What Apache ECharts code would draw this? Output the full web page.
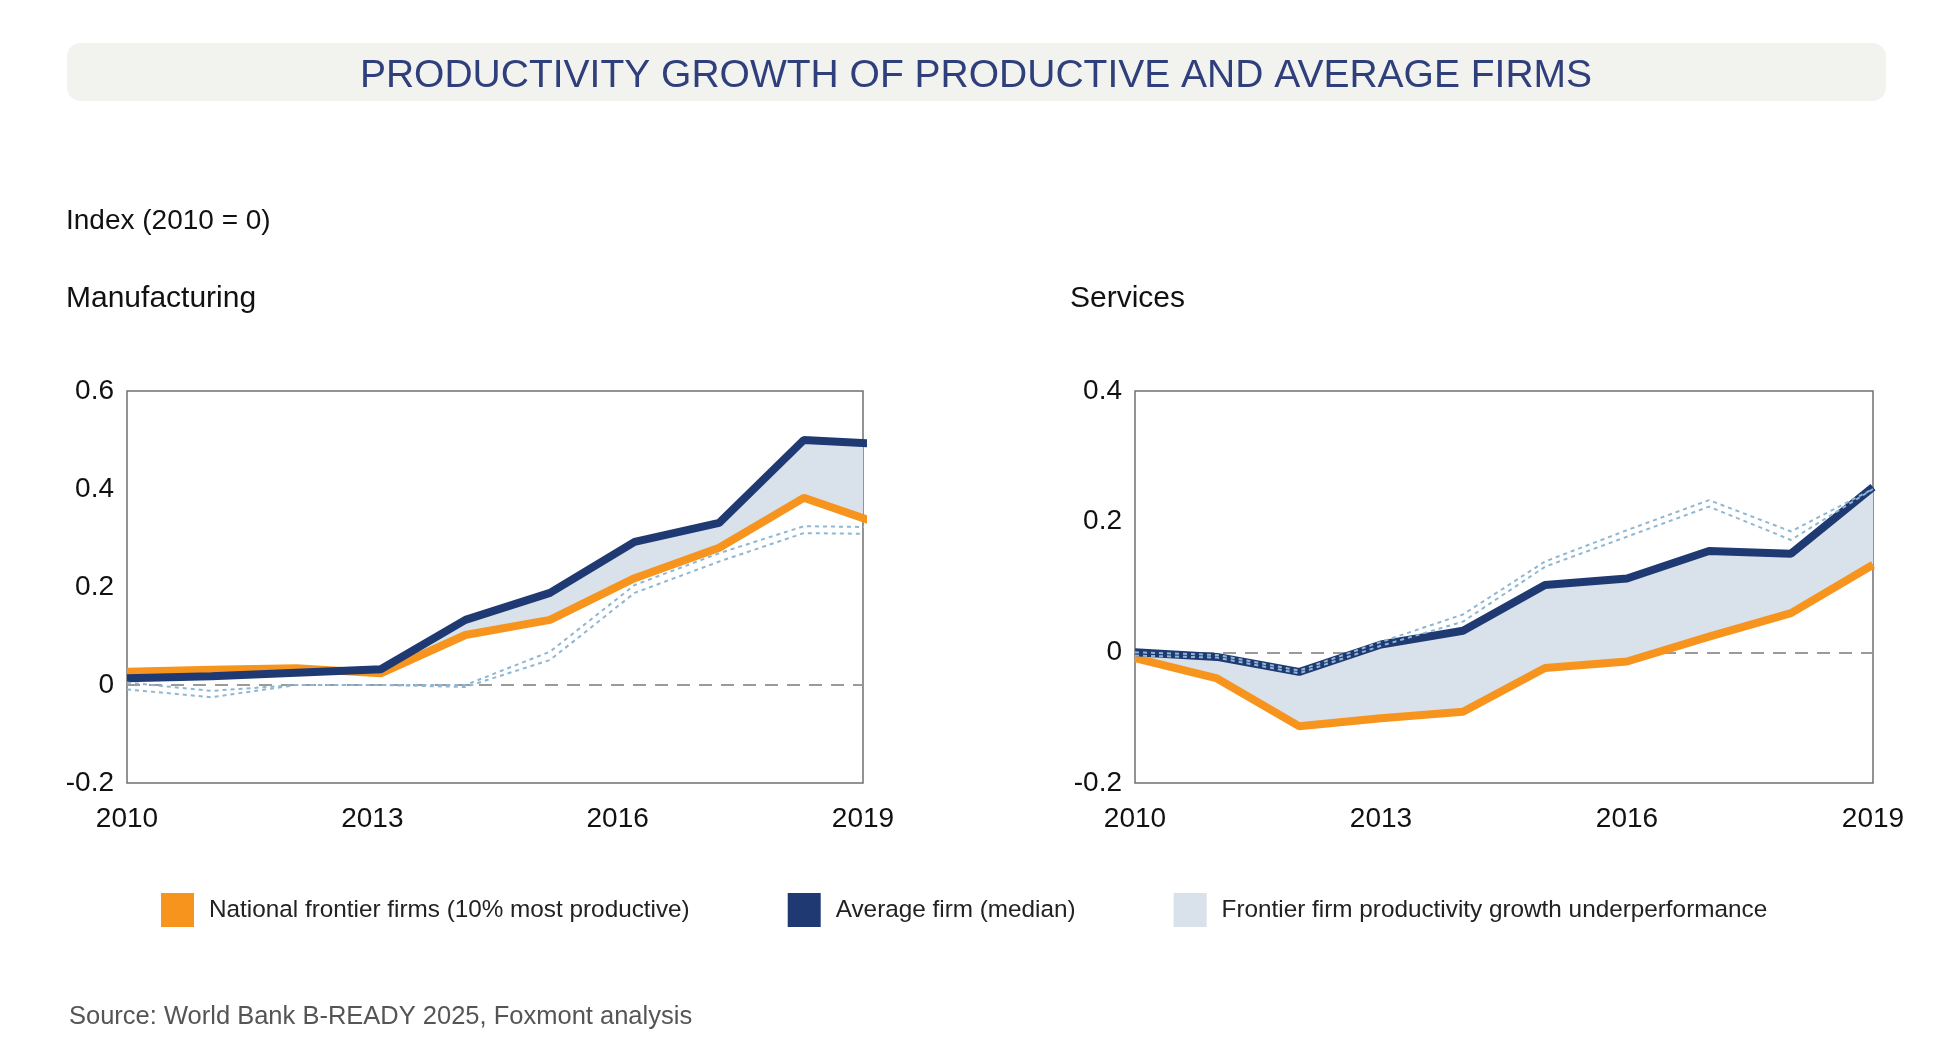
<!DOCTYPE html>
<html lang="en">
<head>
<meta charset="UTF-8">
<title>Productivity growth of productive and average firms</title>
<script src="https://cdn.jsdelivr.net/npm/echarts@6/dist/echarts.min.js"></script>
<style>
    html, body { margin: 0; padding: 0; background: #ffffff; }
    #chart { width: 1939px; height: 1055px; }
</style>
</head>
<body>
<div id="chart"></div>
<script>
// 年份
const years = [2010, 2011, 2012, 2013, 2014, 2015, 2016, 2017, 2018, 2019];
// 刻度标签
const xTicks = [2010, 2013, 2016, 2019];
const mfgTicks = [-0.2, 0, 0.2, 0.4, 0.6];
const srvTicks = [-0.2, 0, 0.2, 0.4];

// 制造业
const mfgFrontier = [0.027, 0.031, 0.034, 0.024, 0.102, 0.133, 0.218, 0.280, 0.382, 0.323];
const mfgMedian   = [0.014, 0.018, 0.025, 0.032, 0.133, 0.188, 0.292, 0.331, 0.500, 0.491];
const mfgDotA     = [0.005, -0.012, 0, 0, 0, 0.068, 0.204, 0.269, 0.324, 0.322];
const mfgDotB     = [-0.009, -0.025, 0, 0, -0.004, 0.051, 0.188, 0.252, 0.310, 0.308];

// 服务业
const srvFrontier = [-0.009, -0.040, -0.113, -0.101, -0.091, -0.024, -0.014, 0.024, 0.060, 0.134];
const srvMedian   = [0.000, -0.007, -0.030, 0.012, 0.033, 0.103, 0.113, 0.155, 0.151, 0.253];
const srvDotA     = [0.000, -0.004, -0.028, 0.016, 0.058, 0.139, 0.187, 0.233, 0.185, 0.250];
const srvDotB     = [-0.005, -0.008, -0.032, 0.010, 0.047, 0.131, 0.177, 0.223, 0.172, 0.250];

const NAME_FRONTIER = 'National frontier firms (10% most productive)';
const NAME_MEDIAN = 'Average firm (median)';
const NAME_GAP = 'Frontier firm productivity growth underperformance';

const ORANGE = '#f7941d';
const NAVY = '#1f3a73';
const FILL = '#d9e1ea';
const DOT = '#8fb6d2';
const FONT = '"Liberation Sans", Arial, sans-serif';

document.addEventListener('DOMContentLoaded', () => {
    const chart = echarts.init(document.getElementById('chart'));

    const toPairs = arr => years.map((y, i) => [y, arr[i]]);

    // 前沿企业落后区域：中位数高于前沿时填充
    const gapSeries = (xIdx, yIdx, frontier, median) => {
        const rows = years.map((y, i) => [y, frontier[i], Math.max(median[i], frontier[i])]);
        return {
            type: 'custom', name: NAME_GAP, xAxisIndex: xIdx, yAxisIndex: yIdx,
            z: 2, silent: true, clip: true,
            itemStyle: { color: FILL },
            data: rows,
            encode: { x: 0, y: [1, 2] },
            renderItem: (params, api) => {
                if (params.dataIndex !== 0) return null;
                const upper = rows.map(r => api.coord([r[0], r[2]]));
                const lower = rows.slice().reverse().map(r => api.coord([r[0], r[1]]));
                return {
                    type: 'polygon',
                    shape: { points: upper.concat(lower) },
                    style: { fill: FILL }
                };
            }
        };
    };

    // 一个面板的全部系列
    const panelSeries = (key, xIdx, yIdx, frontier, median, dotA, dotB) => {
        const common = { type: 'line', xAxisIndex: xIdx, yAxisIndex: yIdx, symbol: 'none', silent: true };
        const dotted = data => ({
            ...common, name: 'peer-' + key, z: 6,
            data: toPairs(data),
            lineStyle: { color: DOT, width: 2, type: [4, 4] }
        });
        return [
            gapSeries(xIdx, yIdx, frontier, median),
            {
                ...common, name: NAME_FRONTIER, z: 4,
                data: toPairs(frontier),
                itemStyle: { color: ORANGE },
                lineStyle: { color: ORANGE, width: 8 },
                // 零线（压在填充之下）
                markLine: {
                    z: 1, silent: true, symbol: 'none', label: { show: false },
                    lineStyle: { color: '#9a9a9a', width: 2, type: [13, 9] },
                    data: [{ yAxis: 0 }]
                }
            },
            {
                ...common, name: NAME_MEDIAN, z: 5,
                data: toPairs(median),
                itemStyle: { color: NAVY },
                lineStyle: { color: NAVY, width: 8 }
            },
            dotted(dotA),
            dotted(dotB)
        ];
    };

    const gridBase = { top: 391, height: 392, show: true, borderColor: '#707070', borderWidth: 1.5 };

    const xVisible = gridIndex => ({
        type: 'value', gridIndex,
        min: xTicks[0], max: xTicks[xTicks.length - 1], interval: 3,
        axisLine: { show: false }, axisTick: { show: false }, splitLine: { show: false },
        axisLabel: { fontSize: 28, color: '#111', fontFamily: FONT, margin: 22, formatter: v => String(v) }
    });

    const yAxisOf = (gridIndex, ticks) => ({
        type: 'value', gridIndex,
        min: ticks[0], max: ticks[ticks.length - 1], interval: 0.2,
        axisLine: { show: false }, axisTick: { show: false }, splitLine: { show: false },
        axisLabel: { fontSize: 28, color: '#111', fontFamily: FONT, margin: 13 }
    });

    const textEl = (x, y, text, size, color, align) => ({
        type: 'text', x, y, silent: true,
        style: { text, fontSize: size, fontFamily: FONT, fill: color, align: align || 'left', verticalAlign: 'middle' }
    });

    const option = {
        animation: false,
        backgroundColor: '#ffffff',
        grid: [
            { ...gridBase, left: 127, width: 736 },
            { ...gridBase, left: 1135, width: 738 }
        ],
        xAxis: [
            xVisible(0),
            // 制造业数据点的间距略宽于刻度，最后一点被裁掉
            { type: 'value', gridIndex: 0, min: 2010, max: 2018.7, show: false },
            xVisible(1)
        ],
        yAxis: [yAxisOf(0, mfgTicks), yAxisOf(1, srvTicks)],
        legend: {
            data: [NAME_FRONTIER, NAME_MEDIAN, NAME_GAP],
            left: 156, top: 888,
            icon: 'rect', itemWidth: 33, itemHeight: 34, itemGap: 98,
            selectedMode: false,
            itemStyle: { borderWidth: 0 },
            // 中间一项后面的间距略大
            formatter: name => (name === NAME_MEDIAN ? '{m|' + name + '}' : name),
            textStyle: {
                fontSize: 24.3, color: '#222', fontFamily: FONT, padding: [0, 0, 0, 10],
                rich: { m: { fontSize: 24.3, color: '#222', fontFamily: FONT, padding: [0, 8, 0, 0] } }
            }
        },
        graphic: [
            {
                type: 'rect', silent: true, z: -1,
                shape: { x: 67, y: 43, width: 1819, height: 58, r: 14 },
                style: { fill: '#f2f2ee' }
            },
            textEl(976, 76, 'PRODUCTIVITY GROWTH OF PRODUCTIVE AND AVERAGE FIRMS', 39, '#2e3f7c', 'center'),
            textEl(66, 221, 'Index (2010 = 0)', 28, '#111'),
            textEl(66, 299, 'Manufacturing', 30, '#111'),
            textEl(1070, 299, 'Services', 30, '#111'),
            textEl(69, 1017, 'Source: World Bank B-READY 2025, Foxmont analysis', 25.5, '#555')
        ],
        series: [
            ...panelSeries('mfg', 1, 0, mfgFrontier, mfgMedian, mfgDotA, mfgDotB),
            ...panelSeries('srv', 2, 1, srvFrontier, srvMedian, srvDotA, srvDotB)
        ]
    };

    chart.setOption(option);
});
</script>
</body>
</html>
